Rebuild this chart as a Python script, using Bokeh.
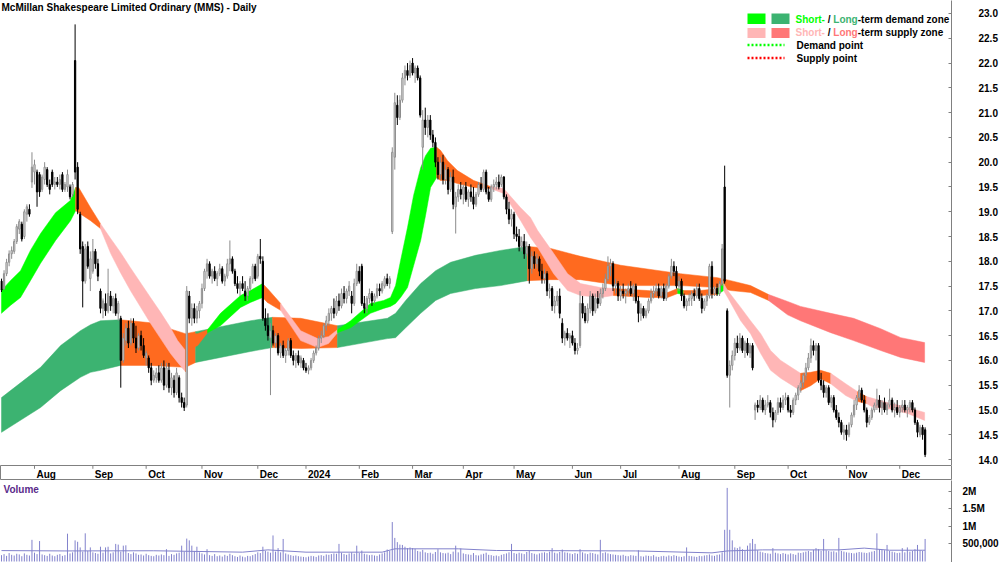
from bokeh.plotting import figure
from bokeh.layouts import column
from bokeh.models import Range1d, FixedTicker, ColumnDataSource, Label, BoxAnnotation
from bokeh.embed import file_html
from bokeh.resources import INLINE
from bokeh.core.properties import value

TITLE = "McMillan Shakespeare Limited Ordinary (MMS) - Daily"

# ---------------- price data (one bar per trading day, 13 Jul 2023 .. 16 Dec 2024) -------------
opens = [
17.60,17.45,17.75,17.98,18.15,18.20,18.40,18.65,18.75,18.50,
18.95,19.05,19.60,19.80,19.80,19.75,19.45,19.65,19.85,19.55,
19.80,19.55,19.60,19.55,19.75,19.45,19.50,19.50,19.35,22.05,
19.90,18.95,18.30,17.60,18.30,17.65,17.80,18.20,17.95,17.40,
17.05,17.15,17.00,17.30,17.10,17.25,16.95,16.85,16.00,16.40,
16.65,16.35,16.75,16.45,16.25,16.50,16.30,16.05,16.05,15.85,
15.60,15.65,15.75,15.60,15.85,15.50,15.80,15.45,15.60,15.35,
15.65,15.25,15.15,15.10,17.30,16.85,17.05,16.85,17.00,17.15,
17.45,17.80,17.95,17.70,17.80,17.65,17.75,17.85,17.60,17.70,
17.95,18.05,17.80,17.55,17.45,17.55,17.40,17.30,17.45,17.65,
17.90,17.70,18.10,18.00,16.85,16.70,16.45,16.60,16.35,16.50,
16.15,16.30,16.10,16.20,16.40,16.10,16.00,16.10,15.95,16.00,
15.85,15.80,15.85,16.00,16.15,16.25,16.45,16.50,16.70,16.80,
16.95,17.05,16.95,17.20,17.10,17.35,17.25,17.40,17.30,17.15,
17.55,17.80,17.90,17.15,17.05,17.25,17.35,17.20,17.30,17.45,
17.40,17.50,17.65,17.55,18.60,20.10,21.15,20.90,21.25,21.70,
21.85,21.75,22.00,21.80,21.90,21.70,20.30,20.85,20.70,20.85,
20.55,20.40,20.00,19.75,20.00,19.65,19.85,19.45,19.70,19.10,
19.30,19.45,19.35,19.50,19.25,19.40,19.30,19.15,19.35,19.55,
19.45,19.80,19.40,19.25,19.50,19.55,19.60,19.55,19.70,19.30,
19.05,18.85,18.95,18.55,18.50,18.30,18.40,18.15,18.30,17.85,
18.10,17.95,18.05,17.80,17.65,17.75,17.40,17.45,17.10,17.20,
17.30,16.75,16.45,16.55,16.45,16.50,16.35,16.20,16.30,17.15,
16.95,16.80,17.05,17.30,17.00,17.25,17.15,17.35,17.45,17.65,
17.90,17.95,17.50,17.55,17.30,17.40,17.35,17.40,17.45,17.35,
17.50,17.20,16.95,17.05,16.90,17.00,17.20,17.35,17.40,17.45,
17.30,17.45,17.25,17.50,17.70,17.90,17.80,17.50,17.60,17.30,
17.10,17.20,17.25,17.35,17.30,17.45,17.25,17.05,17.20,17.30,
17.90,17.35,17.45,17.35,17.55,19.50,17.00,15.70,15.90,16.10,
16.35,16.25,16.45,16.20,16.35,16.15,16.30,15.00,15.10,15.05,
15.20,15.00,15.10,15.15,14.95,14.80,14.95,15.15,15.05,15.20,
15.25,15.00,14.95,15.20,15.30,15.45,15.55,15.70,15.85,16.05,
16.30,16.20,16.30,15.60,15.50,15.35,15.45,15.15,15.25,15.00,
14.85,14.75,14.55,14.60,14.50,14.70,14.90,15.10,15.25,15.40,
15.20,15.00,14.75,14.85,15.00,15.10,15.20,15.05,15.15,15.00,
15.10,15.20,15.00,15.05,14.95,15.05,15.10,15.00,15.05,15.15,
15.00,14.75,14.50,14.65,14.60]

highs = [
17.65,17.82,18.05,18.22,18.30,18.45,18.75,18.85,18.80,19.05,
19.15,19.15,20.20,20.05,19.85,19.80,19.75,20.00,19.90,19.65,
19.85,19.70,19.70,19.75,19.80,19.60,19.85,19.55,19.60,22.78,
20.00,19.00,18.40,18.35,18.40,18.20,18.45,18.25,18.05,17.45,
17.25,17.35,17.85,17.40,17.30,17.35,17.20,16.90,16.55,16.75,
16.80,16.85,16.85,16.70,16.55,16.60,16.45,16.20,16.10,15.95,
15.80,15.85,15.90,15.95,16.00,15.95,15.95,15.75,15.70,15.85,
15.70,15.35,15.25,17.50,17.40,17.15,17.15,17.10,17.20,17.55,
17.85,18.05,18.00,17.85,17.90,17.80,17.95,17.90,17.75,18.05,
18.42,18.10,17.85,17.70,17.60,17.70,17.60,17.50,17.70,17.95,
17.95,18.15,18.45,18.10,17.05,16.95,16.75,16.70,16.55,16.55,
16.35,16.40,16.25,16.45,16.45,16.20,16.15,16.20,16.10,16.05,
15.95,15.90,16.05,16.20,16.30,16.50,16.60,16.75,16.90,17.05,
17.10,17.25,17.30,17.35,17.45,17.50,17.45,17.60,17.40,17.65,
17.95,17.90,17.95,17.30,17.30,17.45,17.40,17.35,17.55,17.55,
17.60,17.70,17.75,17.70,20.30,21.40,21.35,21.35,21.80,21.95,
22.00,22.05,22.10,21.95,21.95,21.75,21.05,21.10,20.95,20.95,
20.65,20.50,20.10,20.10,20.15,19.95,19.90,19.80,19.85,19.40,
19.55,19.60,19.55,19.60,19.45,19.55,19.50,19.40,19.60,19.70,
19.85,19.85,19.50,19.55,19.65,19.70,19.75,19.75,19.72,19.35,
19.20,19.05,19.00,18.70,18.65,18.50,18.55,18.40,18.35,18.20,
18.20,18.15,18.10,17.95,17.85,17.80,17.55,17.50,17.30,17.40,
17.45,16.85,16.60,16.65,16.55,16.60,16.45,16.35,17.40,17.30,
17.10,17.15,17.40,17.35,17.35,17.40,17.45,17.55,17.75,18.10,
18.05,18.00,17.65,17.60,17.50,17.55,17.45,17.55,17.60,17.55,
17.55,17.30,17.15,17.10,17.05,17.25,17.45,17.50,17.55,17.55,
17.50,17.55,17.55,17.75,18.05,18.00,17.90,17.70,17.65,17.35,
17.25,17.35,17.40,17.45,17.55,17.55,17.35,17.25,17.35,17.95,
18.00,17.50,17.55,17.60,18.35,19.93,17.05,16.00,16.20,16.45,
16.50,16.55,16.50,16.40,16.45,16.35,16.35,15.15,15.20,15.30,
15.25,15.20,15.30,15.20,15.05,15.00,15.25,15.25,15.30,15.35,
15.30,15.10,15.25,15.35,15.50,15.60,15.75,15.95,16.15,16.44,
16.40,16.35,16.35,15.75,15.60,15.50,15.50,15.30,15.30,15.10,
14.95,14.80,14.70,14.70,14.75,14.95,15.20,15.30,15.50,15.45,
15.30,15.05,14.90,15.05,15.15,15.43,15.30,15.20,15.25,15.15,
15.43,15.25,15.15,15.20,15.10,15.20,15.20,15.10,15.20,15.20,
15.05,14.80,14.70,14.70,14.65]

lows = [
17.38,17.42,17.70,17.90,18.05,18.15,18.35,18.55,18.40,18.45,
18.80,18.90,19.48,19.55,19.10,19.30,19.40,19.55,19.50,19.35,
19.50,19.45,19.50,19.45,19.40,19.40,19.40,19.25,19.30,19.65,
18.95,18.15,17.07,17.55,17.85,17.40,17.75,17.85,17.60,16.95,
16.85,16.90,16.95,17.00,16.95,16.90,16.80,15.45,15.95,16.30,
16.25,16.30,16.35,16.15,16.20,16.20,16.05,15.90,15.75,15.50,
15.55,15.55,15.55,15.55,15.40,15.45,15.35,15.30,15.25,15.30,
15.15,15.05,14.98,15.05,16.75,16.70,16.75,16.75,16.85,17.05,
17.40,17.65,17.65,17.55,17.60,17.50,17.70,17.55,17.50,17.65,
17.80,17.75,17.50,17.35,17.30,17.40,17.20,17.20,17.40,17.55,
17.60,17.65,17.95,16.80,16.60,16.40,15.30,16.30,16.25,16.10,
16.05,16.05,15.95,16.10,16.05,15.90,15.85,15.90,15.85,15.80,
15.75,15.72,15.80,15.95,16.10,16.20,16.35,16.45,16.60,16.70,
16.80,16.85,16.90,17.00,17.05,17.15,17.15,17.30,16.95,17.10,
17.50,17.55,17.10,16.95,16.95,17.15,17.10,17.15,17.25,17.30,
17.35,17.45,17.50,17.45,18.55,19.85,20.75,20.85,21.20,21.55,
21.65,21.70,21.75,21.60,21.65,20.90,19.85,20.55,20.50,20.45,
20.30,19.90,19.65,19.65,19.55,19.55,19.35,19.40,19.05,18.56,
19.20,19.25,19.15,19.20,19.10,19.20,19.05,19.10,19.30,19.40,
19.40,19.35,19.20,19.20,19.40,19.45,19.45,19.50,19.25,18.95,
18.75,18.70,18.45,18.40,18.20,18.20,18.05,18.10,17.55,17.75,
17.85,17.85,17.70,17.55,17.55,17.30,17.25,17.00,16.95,17.10,
16.85,16.35,16.30,16.40,16.25,16.30,16.12,16.12,16.25,16.85,
16.75,16.75,16.95,16.90,16.95,17.05,17.10,17.25,17.40,17.60,
17.70,17.40,17.35,17.20,17.20,17.25,17.15,17.30,17.30,17.20,
17.15,16.77,16.80,16.85,16.85,16.95,17.15,17.25,17.30,17.25,
17.25,17.20,17.20,17.45,17.65,17.70,17.45,17.40,17.20,17.05,
17.00,17.10,17.10,17.20,17.25,17.20,16.95,17.00,17.10,17.25,
17.25,17.30,17.30,17.30,17.50,17.55,15.65,15.05,15.80,16.00,
16.15,16.20,16.15,16.05,16.10,16.05,15.80,14.80,14.95,15.00,
14.95,14.90,15.05,14.85,14.65,14.75,14.90,14.95,15.00,15.10,
14.95,14.85,14.90,15.10,15.20,15.35,15.45,15.60,15.80,15.95,
16.10,16.00,15.55,15.40,15.25,15.25,15.10,15.05,14.95,14.80,
14.65,14.50,14.40,14.38,14.45,14.65,14.85,15.00,15.20,15.15,
14.95,14.65,14.70,14.80,14.95,15.00,14.95,14.90,14.95,14.90,
15.05,14.95,14.85,14.90,14.85,14.95,14.95,14.85,14.95,14.95,
14.70,14.45,14.45,14.40,14.05]

closes = [
17.42,17.75,17.98,18.15,18.22,18.40,18.70,18.80,18.45,19.00,
19.10,18.95,19.90,19.95,19.40,19.40,19.70,19.90,19.55,19.45,
19.55,19.60,19.55,19.65,19.45,19.55,19.75,19.30,19.55,19.80,
19.05,18.25,17.60,18.25,17.90,18.05,18.20,17.95,17.70,17.05,
17.20,17.00,17.35,17.10,17.25,16.95,17.15,16.00,16.45,16.65,
16.35,16.75,16.45,16.25,16.50,16.30,16.10,16.15,15.85,15.60,
15.70,15.75,15.60,15.85,15.50,15.85,15.45,15.65,15.35,15.75,
15.25,15.15,15.05,17.40,16.85,17.05,16.85,17.00,17.15,17.45,
17.80,17.95,17.70,17.80,17.65,17.75,17.85,17.60,17.70,17.95,
18.05,17.80,17.55,17.45,17.55,17.45,17.30,17.45,17.65,17.90,
17.65,18.10,18.05,16.85,16.70,16.50,16.60,16.35,16.50,16.15,
16.30,16.10,16.20,16.40,16.10,16.00,16.10,15.95,16.05,15.85,
15.80,15.85,16.00,16.15,16.25,16.45,16.50,16.70,16.80,16.95,
17.05,16.95,17.20,17.10,17.35,17.25,17.40,17.50,17.15,17.55,
17.80,17.60,17.15,17.05,17.25,17.35,17.20,17.30,17.45,17.40,
17.55,17.65,17.55,17.65,20.20,21.20,20.90,21.25,21.70,21.85,
21.75,21.95,21.80,21.90,21.70,20.95,20.85,20.70,20.85,20.55,
20.40,20.00,19.75,20.00,19.65,19.85,19.45,19.70,19.15,19.30,
19.45,19.35,19.50,19.25,19.40,19.30,19.15,19.35,19.55,19.45,
19.80,19.40,19.25,19.50,19.55,19.60,19.50,19.70,19.30,19.05,
18.85,18.95,18.55,18.50,18.30,18.40,18.15,18.30,17.85,18.10,
17.95,18.05,17.80,17.65,17.75,17.40,17.45,17.10,17.20,17.30,
16.95,16.45,16.55,16.45,16.50,16.35,16.20,16.25,17.15,16.95,
16.80,17.05,17.30,17.00,17.25,17.15,17.35,17.45,17.65,17.90,
17.95,17.50,17.55,17.30,17.40,17.35,17.40,17.45,17.35,17.50,
17.20,16.95,17.05,16.90,17.00,17.20,17.35,17.40,17.45,17.30,
17.45,17.25,17.50,17.70,17.90,17.80,17.50,17.60,17.30,17.10,
17.20,17.25,17.35,17.30,17.45,17.25,17.05,17.20,17.30,17.90,
17.35,17.45,17.35,17.55,18.25,17.60,15.70,15.90,16.10,16.35,
16.25,16.45,16.20,16.35,16.15,16.30,15.85,15.10,15.05,15.20,
15.00,15.10,15.15,14.95,14.80,14.95,15.15,15.05,15.20,15.25,
15.00,14.95,15.20,15.30,15.45,15.55,15.70,15.85,16.05,16.30,
16.20,16.30,15.60,15.50,15.35,15.45,15.15,15.25,15.00,14.85,
14.75,14.55,14.60,14.50,14.70,14.90,15.10,15.25,15.40,15.20,
15.00,14.75,14.85,15.00,15.10,15.20,15.05,15.15,15.00,15.10,
15.20,15.00,15.05,14.95,15.05,15.10,15.00,15.05,15.15,15.00,
14.75,14.55,14.65,14.50,14.10]

volumes = [
180000,210000,160000,240000,190000,170000,220000,200000,150000,230000,
190000,170000,615000,250000,210000,580000,200000,180000,160000,220000,
170000,150000,190000,210000,160000,180000,790000,230000,260000,600000,
560000,400000,280000,800000,300000,400000,260000,240000,220000,420000,
250000,400000,420000,230000,260000,500000,480000,280000,450000,460000,
240000,210000,260000,230000,190000,200000,170000,220000,180000,160000,
150000,190000,170000,200000,180000,350000,160000,210000,190000,230000,
250000,450000,280000,650000,600000,450000,300000,420000,260000,230000,
200000,350000,180000,160000,210000,150000,170000,140000,190000,160000,
220000,180000,150000,130000,170000,140000,120000,160000,150000,180000,
210000,260000,240000,420000,300000,280000,250000,740000,280000,380000,
260000,640000,230000,200000,180000,160000,170000,150000,140000,130000,
120000,140000,160000,150000,130000,170000,180000,160000,200000,190000,
210000,230000,220000,500000,250000,210000,190000,230000,260000,220000,
450000,240000,310000,220000,200000,180000,190000,170000,160000,200000,
230000,260000,340000,300000,1120000,670000,550000,480000,470000,420000,
380000,400000,380000,360000,300000,280000,330000,260000,240000,250000,
220000,270000,350000,260000,240000,230000,250000,210000,280000,450000,
260000,370000,230000,210000,200000,190000,240000,180000,170000,200000,
220000,250000,190000,180000,160000,170000,150000,190000,210000,230000,
260000,500000,240000,220000,250000,230000,210000,270000,300000,240000,
220000,200000,230000,250000,260000,240000,280000,380000,250000,230000,
270000,340000,260000,250000,230000,210000,240000,220000,350000,260000,
230000,210000,250000,240000,220000,200000,615000,240000,260000,230000,
210000,200000,190000,180000,170000,190000,160000,150000,180000,170000,
160000,320000,150000,140000,170000,160000,150000,180000,140000,130000,
150000,160000,140000,170000,150000,180000,160000,140000,130000,150000,
400000,160000,150000,140000,130000,160000,150000,170000,180000,200000,
170000,160000,190000,200000,260000,900000,2090000,900000,600000,400000,
380000,420000,350000,300000,450000,520000,640000,500000,320000,280000,
260000,240000,230000,220000,380000,250000,230000,210000,240000,220000,
200000,230000,210000,190000,250000,240000,260000,280000,300000,270000,
330000,380000,350000,300000,640000,320000,300000,280000,290000,260000,
670000,300000,280000,260000,250000,240000,230000,250000,270000,260000,
250000,240000,260000,280000,300000,800000,350000,330000,320000,470000,
300000,280000,260000,240000,250000,380000,260000,400000,280000,300000,
350000,470000,320000,300000,640000]

# volume moving-average line, read at knots (bar index, shares)
vma_idx = [0, 25, 60, 95, 105, 120, 150, 155, 180, 195, 250, 280, 286, 300, 330, 340, 350, 364]
vma_val = [310000, 300000, 305000, 265000, 330000, 265000, 265000, 360000, 360000, 312000,
           300000, 245000, 300000, 330000, 330000, 380000, 320000, 320000]

# ---------------- zones (bar index, upper, lower, state of segment that starts there) ----------
# states: G = demand, P = short-term supply, S = long-term supply, O = transition (orange)
st_idx = [0, 3.5, 7.5, 11.4, 15.4, 21.3, 27.2, 29.2, 30.4, 35.1,
          39.0, 43.0, 46.9, 50.8, 58.7, 62.7, 66.6, 69.4, 72.5, 73.3,
          77.3, 81.2, 86.3, 94.2, 98.1, 102.9, 104.8, 110.0, 117.9, 124.6,
          128.9, 132.4, 137.6, 145.4, 150.6, 153.3, 155.3, 157.3, 160.0, 162.4,
          165.2, 167.1, 169.1, 171.5, 173.0, 175.8, 179.7, 186.1, 192.7, 197.9,
          204.6, 208.5, 211.3, 217.6, 223.1, 228.2, 236.1, 241.2, 254.6, 262.5,
          266.5, 268.8, 275.5, 282.2, 284.6, 286.2, 291.3, 295.2, 299.2, 303.1,
          307.1, 314.9, 318.9, 322.8, 326.8, 332.7, 337.4, 340.9, 343.7, 349.2,
          357.1, 363.8]
st_top = [17.41, 17.61, 17.81, 18.22, 18.56, 18.98, 19.23, 19.49, 19.49, 19.08,
          18.76, 18.46, 18.18, 17.87, 17.27, 16.97, 16.66, 16.40, 16.20, 16.54,
          16.54, 16.62, 16.95, 17.31, 17.41, 17.55, 17.45, 17.15, 16.60, 16.44,
          16.48, 16.62, 16.80, 17.15, 17.21, 17.27, 17.51, 18.02, 18.68, 19.33,
          19.89, 20.13, 20.28, 20.30, 20.24, 20.03, 19.83, 19.63, 19.51, 19.47,
          19.08, 18.88, 18.62, 18.16, 17.75, 17.55, 17.47, 17.45, 17.41, 17.37,
          17.45, 17.41, 17.41, 17.45, 17.55, 17.41, 17.07, 16.80, 16.54, 16.20,
          16.00, 15.74, 15.76, 15.80, 15.74, 15.53, 15.37, 15.27, 15.23, 15.15,
          15.05, 14.95]
st_bot = [16.95, 17.11, 17.27, 17.61, 17.96, 18.42, 18.82, 19.02, 18.98, 18.82,
          18.66, 18.16, 17.77, 17.41, 16.75, 16.44, 16.14, 15.96, 15.77, 16.20,
          16.30, 16.56, 16.70, 17.07, 17.17, 17.27, 17.17, 17.01, 16.40, 16.26,
          16.34, 16.56, 16.66, 16.95, 17.05, 17.09, 17.15, 17.27, 17.47, 17.91,
          18.42, 18.92, 19.49, 19.69, 19.63, 19.63, 19.57, 19.49, 19.47, 19.37,
          18.82, 18.48, 18.28, 17.75, 17.41, 17.31, 17.27, 17.31, 17.27, 17.27,
          17.35, 17.33, 17.31, 17.33, 17.41, 17.27, 16.80, 16.54, 16.14, 15.80,
          15.64, 15.39, 15.49, 15.63, 15.53, 15.29, 15.17, 15.13, 15.05, 15.03,
          14.93, 14.79]
st_state = ["G", "G", "G", "G", "G", "G", "G", "O", "O", "O",
            "P", "P", "P", "P", "P", "P", "P", "P", "O", "O",
            "O", "G", "G", "G", "G", "O", "O", "P", "P", "P",
            "P", "G", "G", "G", "G", "G", "G", "G", "G", "G",
            "G", "G", "G", "O", "O", "O", "O", "O", "P", "P",
            "P", "P", "P", "P", "P", "P", "P", "O", "O", "O",
            "G", "O", "O", "G", "P", "P", "P", "P", "P", "P",
            "P", "O", "O", "O", "P", "P", "O", "P", "P", "P",
            "P", "P"]

lt_idx = [0, 15.4, 23.3, 31.1, 35.1, 39.0, 46.9, 58.7, 72.5, 76.5,
          98.1, 106.8, 117.9, 132.4, 152.1, 155.3, 159.3, 165.2, 171.1, 177.0,
          186.8, 196.7, 207.3, 216.4, 228.2, 244.0, 267.6, 282.2, 287.4, 295.2,
          302.3, 309.8, 314.9, 326.8, 335.8, 346.5, 354.4, 363.8]
lt_top = [15.25, 15.86, 16.30, 16.60, 16.72, 16.80, 16.82, 16.76, 16.54, 16.58,
          16.80, 16.87, 16.85, 16.70, 16.85, 16.95, 17.21, 17.55, 17.81, 17.98,
          18.12, 18.22, 18.30, 18.26, 18.10, 17.92, 17.75, 17.67, 17.61, 17.51,
          17.33, 17.19, 17.09, 16.95, 16.85, 16.64, 16.46, 16.36]
lt_bot = [14.55, 15.05, 15.39, 15.66, 15.76, 15.80, 15.90, 15.90, 15.86, 15.96,
          16.18, 16.26, 16.24, 16.26, 16.44, 16.46, 16.66, 16.95, 17.21, 17.35,
          17.45, 17.51, 17.61, 17.63, 17.63, 17.51, 17.51, 17.47, 17.41, 17.37,
          17.21, 16.92, 16.80, 16.56, 16.40, 16.20, 16.06, 15.96]
lt_state = ["G", "G", "G", "G", "G", "G", "O", "O", "O", "G",
            "G", "O", "O", "G", "G", "G", "G", "G", "G", "G",
            "G", "G", "O", "O", "O", "O", "O", "O", "O", "O",
            "S", "S", "S", "S", "S", "S", "S", "S"]

# ---------------- axes ----------------
price_ticks = [14.0, 14.5, 15.0, 15.5, 16.0, 16.5, 17.0, 17.5, 18.0, 18.5, 19.0, 19.5,
               20.0, 20.5, 21.0, 21.5, 22.0, 22.5, 23.0]
month_idx = [13, 36, 57, 79, 101, 120, 141, 162, 182, 202, 225, 244, 267, 289, 310, 333, 354]
month_labels = ["Aug", "Sep", "Oct", "Nov", "Dec", "2024", "Feb", "Mar", "Apr", "May", "Jun",
                "Jul", "Aug", "Sep", "Oct", "Nov", "Dec"]
vol_ticks = [500000, 1000000, 1500000, 2000000]
vol_tick_labels = ["500,000", "1M", "1.5M", "2M"]

# ---------------- style ----------------
FONT = "Liberation Sans"
C_SGREEN = "#00FF00"
C_LGREEN = "#3CB371"
C_SPINK = "#FFB6B6"
C_LRED = "#FF7777"
C_ORANGE = "#FF6A1F"
C_VOL = "#8282CC"
C_AXIS = "#808080"
ST_COL = {"G": C_SGREEN, "P": C_SPINK, "O": C_ORANGE, "S": C_LRED}
LT_COL = {"G": C_LGREEN, "P": C_SPINK, "O": C_ORANGE, "S": C_LRED}

FW = 951
XR = Range1d(-0.4, 374.4)
YR = Range1d(13.88, 23.262)
VR = Range1d(-28400, 2300000)
PH, SH, VH = 465, 15, 82


def X(px):
    return XR.start + px * (XR.end - XR.start) / FW


def Y(py):
    return YR.end - py * (YR.end - YR.start) / PH


def VY(py):
    return VR.end - py * (VR.end - VR.start) / VH


def style_axis(ax, standoff):
    ax.axis_line_color = C_AXIS
    ax.major_tick_line_color = C_AXIS
    ax.major_tick_in = 3
    ax.major_tick_out = 0
    ax.minor_tick_line_color = None
    ax.major_label_standoff = standoff
    ax.major_label_text_font = FONT
    ax.major_label_text_font_size = "10px"
    ax.major_label_text_font_style = "bold"
    ax.major_label_text_color = "black"


def base_fig(h, yr, yloc):
    f = figure(frame_width=FW, frame_height=h, x_range=XR, y_range=yr,
               output_backend="svg", toolbar_location=None,
               x_axis_location=None, y_axis_location=yloc,
               min_border_left=0, min_border_right=49, min_border_top=0, min_border_bottom=0)
    f.grid.visible = False
    f.outline_line_color = None
    f.background_fill_color = "white"
    f.border_fill_color = "white"
    return f


# ---------------- price panel ----------------
p = base_fig(PH, YR, "right")
style_axis(p.yaxis[0], 27)
p.yaxis[0].ticker = FixedTicker(ticks=price_ticks)
p.yaxis[0].major_label_overrides = {t: f"{t:.1f}" for t in price_ticks}


def zone_patches(xs, tops, bots, states, cmap):
    pxs, pys, cols = [], [], []
    start = 0
    n = min(len(xs), len(tops), len(bots), len(states))
    for k in range(1, n):
        if k == n - 1 or states[k] != states[start]:
            seg_x = list(xs[start:k + 1])
            pxs.append(seg_x + seg_x[::-1])
            pys.append(list(tops[start:k + 1]) + list(bots[start:k + 1])[::-1])
            cols.append(cmap[states[start]])
            start = k
    return ColumnDataSource(dict(xs=pxs, ys=pys, c=cols))


p.patches("xs", "ys", source=zone_patches(lt_idx, lt_top, lt_bot, lt_state, LT_COL),
          fill_color="c", line_color="c", line_width=0.5)
p.patches("xs", "ys", source=zone_patches(st_idx, st_top, st_bot, st_state, ST_COL),
          fill_color="c", line_color="c", line_width=0.5)

n = min(len(opens), len(highs), len(lows), len(closes), len(volumes))
idx = list(range(n))
up = [closes[i] >= opens[i] for i in idx]
csrc = ColumnDataSource(dict(
    x=idx, o=opens[:n], h=highs[:n], l=lows[:n], c=closes[:n],
    top=[max(opens[i], closes[i]) for i in idx],
    bot=[min(opens[i], closes[i]) for i in idx],
    wc=[("#8C8C8C" if u else "black") for u in up],
    fc=[("white" if u else "black") for u in up],
    lc=[("#8C8C8C" if u else "black") for u in up],
))
p.segment(x0="x", y0="l", x1="x", y1="h", source=csrc, line_color="wc", line_width=1)
p.vbar(x="x", top="top", bottom="bot", width=0.5, source=csrc,
       fill_color="fc", line_color="lc", line_width=1)

# title
p.add_layout(Label(x=X(1), y=Y(6.8), text=TITLE, text_font=FONT, text_font_size="10px",
                   text_font_style="bold", text_color="black", text_baseline="middle",
                   text_align="left"))

# legend
p.add_layout(BoxAnnotation(left=X(747), right=X(765), top=Y(13), bottom=Y(23.5),
                           fill_color=C_SGREEN, fill_alpha=1, line_color=None))
p.add_layout(BoxAnnotation(left=X(771), right=X(789), top=Y(13), bottom=Y(23.5),
                           fill_color=C_LGREEN, fill_alpha=1, line_color=None))
p.add_layout(BoxAnnotation(left=X(747), right=X(765), top=Y(27.5), bottom=Y(37.5),
                           fill_color=C_SPINK, fill_alpha=1, line_color=None))
p.add_layout(BoxAnnotation(left=X(771), right=X(789), top=Y(27.5), bottom=Y(37.5),
                           fill_color=C_LRED, fill_alpha=1, line_color=None))
p.line([X(747), X(784)], [Y(44.5), Y(44.5)], line_color="#00FF00", line_width=2.5, line_dash="2 2")
p.line([X(747), X(784)], [Y(57.5), Y(57.5)], line_color="#FF0000", line_width=2.5, line_dash="2 2")


def lab(px, py, text, color):
    p.add_layout(Label(x=X(px), y=Y(py), text=text, text_font=FONT, text_font_size="10px",
                       text_font_style="bold", text_color=color, text_baseline="middle",
                       text_align="left"))


x0 = 795.0
w_short, w_sl, w_long = 29.44, 8.34, 24.44
for row, (c1, c2, rest) in enumerate([(C_SGREEN, C_LGREEN, "-term demand zone"),
                                      (C_SPINK, C_LRED, "-term supply zone")]):
    yy = 18.6 + row * 13.2
    lab(x0, yy, "Short-", c1)
    lab(x0 + w_short + 2.78, yy, "/", "black")
    lab(x0 + w_short + w_sl, yy, "Long", c2)
    lab(x0 + w_short + w_sl + w_long, yy, rest, "black")
lab(796, 45.0, "Demand point", "black")
lab(796, 58.0, "Supply point", "black")

# ---------------- month strip ----------------
s = base_fig(SH, Range1d(0, 1), None)
s.outline_line_color = C_AXIS
s.segment(x0=month_idx, y0=[1] * len(month_idx), x1=month_idx, y1=[0.78] * len(month_idx),
          line_color=C_AXIS, line_width=1)
s.text(x=month_idx, y=[0.41] * len(month_idx), text=month_labels, x_offset=2,
       text_font=value(FONT), text_font_size="10px", text_font_style="bold",
       text_color="black", text_baseline="middle", text_align="left")

# ---------------- volume panel ----------------
v = base_fig(VH, VR, "right")
style_axis(v.yaxis[0], 11)
v.yaxis[0].ticker = FixedTicker(ticks=vol_ticks)
v.yaxis[0].major_label_overrides = dict(zip(vol_ticks, vol_tick_labels))
v.segment(x0=idx, y0=[0] * n, x1=idx, y1=volumes[:n], line_color=C_VOL, line_width=1)
v.line(vma_idx, vma_val, line_color=C_VOL, line_width=1)
v.add_layout(Label(x=X(3), y=VY(8.8), text="Volume", text_font=FONT, text_font_size="10px",
                   text_font_style="bold", text_color="#5A2A8A", text_baseline="middle",
                   text_align="left"))

layout = column(p, s, v, spacing=0)
open("out.html", "w").write(file_html(layout, INLINE, title="MMS"))
